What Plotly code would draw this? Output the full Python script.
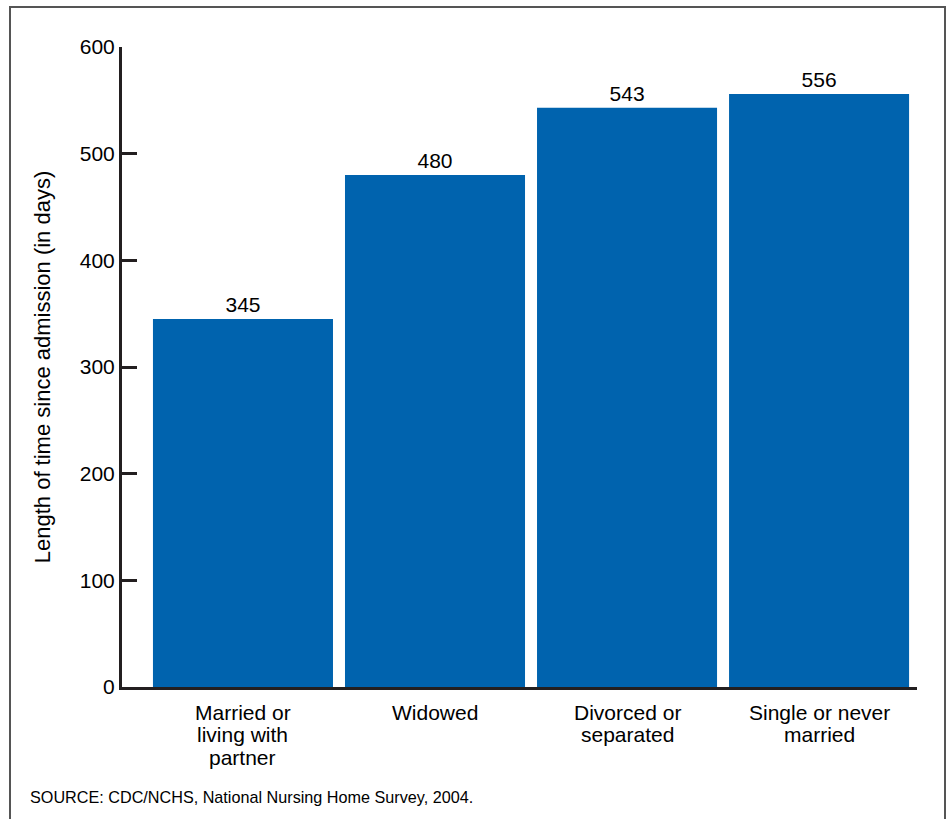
import plotly.graph_objects as go

categories = ["Married or<br>living with<br>partner", "Widowed", "Divorced or<br>separated", "Single or never<br>married"]
values = [345, 480, 543, 556]
value_labels = ["345", "480", "543", "556"]
y_ticks = [0, 100, 200, 300, 400, 500, 600]

FONT = "Liberation Sans, Arial, Helvetica, sans-serif"
AXIS = "#231f20"
TXT = "#000"

fig = go.Figure(go.Bar(
    x=list(range(len(categories))), y=values,
    marker=dict(color="#0063ae", line=dict(width=0)),
    text=value_labels, textposition="outside", cliponaxis=False,
    textfont=dict(size=21, color=TXT, family=FONT),
))

L, R, T, B = 122, 917, 47, 687
W, H = 949, 819
pw, ph = R - L, B - T

def px(x):
    return (x - L) / pw

def py(y):
    return (B - y) / ph

annotations = []
for i, cat in enumerate(categories):
    for k, line in enumerate(cat.split("<br>")):
        annotations.append(dict(
            text=line, xref="x", yref="paper", x=i, y=0,
            xanchor="center", yanchor="middle", showarrow=False,
            yshift=-(25 + k * 22.5),
            font=dict(size=21, family=FONT, color=TXT)))

annotations.append(dict(text="SOURCE: CDC/NCHS, National Nursing Home Survey, 2004.",
                        xref="paper", yref="paper", x=px(28), y=py(797),
                        xanchor="left", yanchor="middle", showarrow=False,
                        font=dict(size=16.2, family=FONT, color=TXT)))

fig.update_layout(
    width=W, height=H,
    margin=dict(l=L, r=W - R, t=T, b=H - B),
    paper_bgcolor="white", plot_bgcolor="white",
    bargap=12 / 192,
    showlegend=False,
    font=dict(family=FONT, color=TXT),
    xaxis=dict(
        range=[-0.63, 3.51], tickmode="array", tickvals=list(range(len(categories))),
        showticklabels=False, showline=True, linecolor=AXIS, linewidth=3,
        ticks="", showgrid=False, zeroline=False,
    ),
    yaxis=dict(
        range=[0, 600], tickmode="array", tickvals=y_ticks,
        showline=True, linecolor=AXIS, linewidth=3,
        ticks="inside", ticklen=15, tickwidth=3, tickcolor=AXIS,
        showgrid=False, zeroline=False,
        tickfont=dict(size=21, family=FONT, color=TXT),
        title=dict(text="Length of time since admission (in days)", standoff=24,
                   font=dict(size=22, family=FONT, color=TXT)),
    ),
    shapes=[dict(type="rect", xref="paper", yref="paper",
                 x0=px(10), x1=px(945), y0=py(824), y1=py(7),
                 line=dict(color="#555", width=2), layer="below")],
    annotations=annotations,
)

fig.write_html("out.html", config={"displayModeBar": False},
               post_script="document.body.style.margin='0';document.body.style.overflow='hidden';")
